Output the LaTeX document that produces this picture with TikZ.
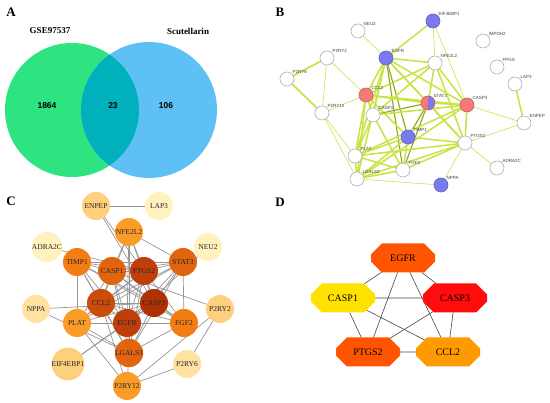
\documentclass[tikz,border=0pt]{standalone}
\usepackage{fontspec}
\setmainfont{Liberation Serif}
\setsansfont{Liberation Sans}
\usepackage{tkz-graph}
\usetikzlibrary{arrows}
\usetikzlibrary{shapes}
\pgfdeclarelayer{background}
\pgfsetlayers{background,main}

\definecolor{vennGreen}{RGB}{46,228,128}
\definecolor{vennBlue}{RGB}{95,192,246}
\definecolor{vennTeal}{RGB}{0,176,186}
\definecolor{protRim}{RGB}{175,175,175}
\definecolor{protBlue}{RGB}{122,122,238}
\definecolor{protRed}{RGB}{246,120,120}
\definecolor{linkYel}{RGB}{200,228,70}
\definecolor{linkGry}{RGB}{95,95,95}
\definecolor{linkPnk}{RGB}{232,90,222}
\definecolor{linkCyn}{RGB}{40,200,222}
\definecolor{linkBlu}{RGB}{120,120,235}
\definecolor{hotA}{RGB}{175,50,5}
\definecolor{hotB}{RGB}{192,62,10}
\definecolor{hotC}{RGB}{202,76,10}
\definecolor{hotD}{RGB}{225,100,15}
\definecolor{hotE}{RGB}{243,125,18}
\definecolor{hotF}{RGB}{251,155,40}
\definecolor{hotG}{RGB}{254,207,125}
\definecolor{hotH}{RGB}{255,226,160}
\definecolor{hotI}{RGB}{255,242,190}
\definecolor{hubLine}{RGB}{150,150,150}
\definecolor{rankA}{RGB}{255,12,12}
\definecolor{rankB}{RGB}{255,85,0}
\definecolor{rankC}{RGB}{255,155,0}
\definecolor{rankD}{RGB}{255,225,0}

\tikzset{splitProt/.style = {shape = circle, minimum size = 14pt, inner sep = 0pt, draw = protRed!80!black, fill = protRed, line width = 0.6pt,
	path picture = {\fill[protBlue] (path picture bounding box.north) rectangle (path picture bounding box.south east);}}}

\begin{document}
\begin{tikzpicture}[x = 1pt, y = -1pt]
	\useasboundingbox (0,0) rectangle (550,403);
	\tikzstyle{VertexStyle} = []
	\tikzstyle{EdgeStyle} = []
	\tikzstyle{panelStyle} = [font = \fontsize{13}{14}\selectfont\bfseries]
	\tikzstyle{setStyle} = [font = \fontsize{9}{10}\selectfont\bfseries]
	\tikzstyle{countStyle} = [font = \sffamily\fontsize{8.5}{9}\selectfont\bfseries]
	\tikzstyle{protLabel} = [font = \sffamily\fontsize{4.5}{5}\selectfont, text = darkgray, inner sep = 0.5pt]
	\tikzstyle{protStyle} = [shape = circle, minimum size = 14pt, inner sep = 0pt, draw = protRim, fill = white, line width = 0.6pt]
	\tikzstyle{blueProt} = [protStyle, draw = protBlue!80!black, fill = protBlue]
	\tikzstyle{redProt} = [protStyle, draw = protRed!80!black, fill = protRed]
	\tikzstyle{hubStyle} = [shape = circle, minimum size = 28pt, inner sep = 0pt, font = \fontsize{7.5}{8}\selectfont, text = black!85]
	\tikzstyle{rankStyle} = [shape = chamfered rectangle, chamfered rectangle xsep = 9pt, chamfered rectangle ysep = 7.5pt, minimum width = 64pt, minimum height = 29pt, inner sep = 0pt, font = \fontsize{10}{11}\selectfont]
	\tikzstyle{linkCore} = [draw = linkGry, double = linkYel, double distance = 0.35pt, line width = 0.4pt]
	\tikzstyle{linkCoreP} = [draw = linkPnk, double = linkYel, double distance = 0.35pt, line width = 0.4pt]
	\tikzstyle{linkCoreC} = [draw = linkCyn, double = linkGry, double distance = 0.35pt, line width = 0.4pt]
	\tikzstyle{linkPair} = [draw = linkBlu, double = linkYel, double distance = 0.6pt, line width = 0.6pt]

	% panel A
	\node[panelStyle] (pA) at (11,12) {A};
	\fill[vennGreen] (72,110) circle (67pt);
	\fill[vennBlue] (149,110) circle (68pt);
	\begin{scope}
		\clip (72,110) circle (67pt);
		\fill[vennTeal] (149,110) circle (68pt);
	\end{scope}
	\node[setStyle] (setGSE) at (50,31) {GSE97537};
	\node[setStyle] (setScu) at (188,31) {Scutellarin};
	\node[countStyle] (onlyGSE) at (47,106) {1864};
	\node[countStyle] (both) at (113,106) {23};
	\node[countStyle] (onlyScu) at (166,106) {106};

	% panel B
	\node[panelStyle] (pB) at (280,12) {B};
	\Vertex[style = {blueProt, label = {[protLabel]45:EIF4EBP1}}, x = 433, y = 21, NoLabel]{bEIF4EBP1}
	\Vertex[style = {protStyle, label = {[protLabel]45:NEU2}}, x = 358, y = 31, NoLabel]{bNEU2}
	\Vertex[style = {protStyle, label = {[protLabel]45:IMPDH2}}, x = 483, y = 41, NoLabel]{bIMPDH2}
	\Vertex[style = {protStyle, label = {[protLabel]45:P2RY2}}, x = 327, y = 58, NoLabel]{bP2RY2}
	\Vertex[style = {blueProt, label = {[protLabel]45:EGFR}}, x = 386, y = 58, NoLabel]{bEGFR}
	\Vertex[style = {protStyle, label = {[protLabel]45:NFE2L2}}, x = 435, y = 63, NoLabel]{bNFE2L2}
	\Vertex[style = {protStyle, label = {[protLabel]45:FPGS}}, x = 497, y = 67, NoLabel]{bFPGS}
	\Vertex[style = {protStyle, label = {[protLabel]45:LAP3}}, x = 515, y = 84, NoLabel]{bLAP3}
	\Vertex[style = {protStyle, label = {[protLabel]45:P2RY6}}, x = 287, y = 79, NoLabel]{bP2RY6}
	\Vertex[style = {redProt, label = {[protLabel]45:CCL2}}, x = 366, y = 95, NoLabel]{bCCL2}
	\Vertex[style = {splitProt, label = {[protLabel]45:STAT3}}, x = 428, y = 103, NoLabel]{bSTAT3}
	\Vertex[style = {redProt, label = {[protLabel]45:CASP3}}, x = 467, y = 105, NoLabel]{bCASP3}
	\Vertex[style = {protStyle, label = {[protLabel]45:P2RY12}}, x = 322, y = 113, NoLabel]{bP2RY12}
	\Vertex[style = {protStyle, label = {[protLabel]45:CASP1}}, x = 373, y = 115, NoLabel]{bCASP1}
	\Vertex[style = {protStyle, label = {[protLabel]45:ENPEP}}, x = 524, y = 123, NoLabel]{bENPEP}
	\Vertex[style = {blueProt, label = {[protLabel]45:TIMP1}}, x = 408, y = 137, NoLabel]{bTIMP1}
	\Vertex[style = {protStyle, label = {[protLabel]45:PTGS2}}, x = 465, y = 143, NoLabel]{bPTGS2}
	\Vertex[style = {protStyle, label = {[protLabel]45:PLAT}}, x = 355, y = 156, NoLabel]{bPLAT}
	\Vertex[style = {protStyle, label = {[protLabel]45:FGF2}}, x = 403, y = 170, NoLabel]{bFGF2}
	\Vertex[style = {protStyle, label = {[protLabel]45:ADRA2C}}, x = 497, y = 168, NoLabel]{bADRA2C}
	\Vertex[style = {protStyle, label = {[protLabel]45:LGALS3}}, x = 357, y = 179, NoLabel]{bLGALS3}
	\Vertex[style = {blueProt, label = {[protLabel]45:NPPA}}, x = 441, y = 185, NoLabel]{bNPPA}
	\begin{pgfonlayer}{background}
	\tikzstyle{EdgeStyle} = [draw = linkYel, line width = 0.6pt]
	\Edge[style = {linkCoreP}](bEIF4EBP1)(bEGFR)
	\Edge(bEIF4EBP1)(bNFE2L2)
	\Edge(bEIF4EBP1)(bCASP3)
	\Edge(bNEU2)(bEGFR)
	\Edge[style = {linkPair}](bP2RY2)(bP2RY6)
	\Edge[style = {draw = linkBlu!60}](bP2RY2)(bP2RY12)
	\Edge[style = {draw = linkGry}](bP2RY2)(bCCL2)
	\Edge[style = {linkPair}](bP2RY6)(bP2RY12)
	\Edge(bP2RY12)(bCCL2)
	\Edge[style = {draw = linkPnk}](bP2RY12)(bLGALS3)
	\Edge(bP2RY12)(bPLAT)
	\Edge[style = {linkCoreP}](bLAP3)(bENPEP)
	\Edge(bENPEP)(bCASP3)
	\Edge(bENPEP)(bPTGS2)
	\Edge(bPTGS2)(bADRA2C)
	\Edge(bNPPA)(bPTGS2)
	\Edge(bNPPA)(bLGALS3)
	\Edge[style = {linkCoreP}](bCCL2)(bNFE2L2)
	\Edge[style = {linkCoreP}](bEGFR)(bCCL2)
	\Edge[style = {linkCore}](bEGFR)(bSTAT3)
	\Edge[style = {linkCore}](bEGFR)(bCASP3)
	\Edge[style = {linkCoreP}](bEGFR)(bCASP1)
	\Edge[style = {linkCoreC}](bEGFR)(bTIMP1)
	\Edge[style = {linkCore}](bEGFR)(bPTGS2)
	\Edge[style = {linkCore}](bEGFR)(bPLAT)
	\Edge[style = {linkCoreC}](bEGFR)(bFGF2)
	\Edge[style = {linkCore}](bEGFR)(bLGALS3)
	\Edge[style = {linkCore}](bEGFR)(bNFE2L2)
	\Edge[style = {linkCore}](bCCL2)(bSTAT3)
	\Edge[style = {linkCore}](bCCL2)(bCASP3)
	\Edge[style = {linkCore}](bCCL2)(bCASP1)
	\Edge[style = {linkCore}](bCCL2)(bPLAT)
	\Edge[style = {linkCore}](bCCL2)(bLGALS3)
	\Edge[style = {linkCore}](bCCL2)(bTIMP1)
	\Edge[style = {linkCore}](bSTAT3)(bCASP3)
	\Edge[style = {linkCoreC}](bSTAT3)(bTIMP1)
	\Edge[style = {linkCore}](bSTAT3)(bPTGS2)
	\Edge[style = {linkCore}](bSTAT3)(bNFE2L2)
	\Edge[style = {linkCoreC}](bSTAT3)(bFGF2)
	\Edge[style = {linkCoreC}](bSTAT3)(bCASP1)
	\Edge[style = {linkCore}](bCASP3)(bPTGS2)
	\Edge[style = {linkCore}](bCASP3)(bCASP1)
	\Edge[style = {linkCore}](bCASP3)(bPLAT)
	\Edge[style = {linkCoreP}](bCASP3)(bLGALS3)
	\Edge[style = {linkCore}](bCASP3)(bNFE2L2)
	\Edge[style = {linkCore}](bCASP1)(bPLAT)
	\Edge[style = {linkCoreP}](bCASP1)(bNFE2L2)
	\Edge[style = {linkCore}](bCASP1)(bFGF2)
	\Edge[style = {linkCore}](bTIMP1)(bPLAT)
	\Edge[style = {linkCore}](bTIMP1)(bLGALS3)
	\Edge[style = {linkCore}](bTIMP1)(bFGF2)
	\Edge[style = {linkCore}](bTIMP1)(bPTGS2)
	\Edge[style = {linkCore}](bPTGS2)(bPLAT)
	\Edge[style = {linkCore}](bPTGS2)(bFGF2)
	\Edge[style = {linkCore}](bPTGS2)(bLGALS3)
	\Edge[style = {linkCore}](bPTGS2)(bNFE2L2)
	\Edge[style = {linkCore}](bPLAT)(bLGALS3)
	\Edge[style = {linkCore}](bPLAT)(bFGF2)
	\Edge[style = {linkCore}](bFGF2)(bLGALS3)
	\end{pgfonlayer}

	% panel C
	\node[panelStyle] (pC) at (11,201) {C};
	\Vertex[style = {hubStyle, fill = hotG}, x = 96, y = 206, L = {ENPEP}]{cENPEP}
	\Vertex[style = {hubStyle, fill = hotI}, x = 159, y = 206, L = {LAP3}]{cLAP3}
	\Vertex[style = {hubStyle, fill = hotF}, x = 129, y = 232, L = {NFE2L2}]{cNFE2L2}
	\Vertex[style = {hubStyle, fill = hotI}, x = 47, y = 247, L = {ADRA2C}]{cADRA2C}
	\Vertex[style = {hubStyle, fill = hotI}, x = 208, y = 247, L = {NEU2}]{cNEU2}
	\Vertex[style = {hubStyle, fill = hotE}, x = 77, y = 262, L = {TIMP1}]{cTIMP1}
	\Vertex[style = {hubStyle, fill = hotD}, x = 112, y = 271, L = {CASP1}]{cCASP1}
	\Vertex[style = {hubStyle, fill = hotB}, x = 144, y = 271, L = {PTGS2}]{cPTGS2}
	\Vertex[style = {hubStyle, fill = hotD}, x = 183, y = 262, L = {STAT3}]{cSTAT3}
	\Vertex[style = {hubStyle, fill = hotC}, x = 101, y = 303, L = {CCL2}]{cCCL2}
	\Vertex[style = {hubStyle, fill = hotA}, x = 154, y = 303, L = {CASP3}]{cCASP3}
	\Vertex[style = {hubStyle, fill = hotH}, x = 36, y = 309, L = {NPPA}]{cNPPA}
	\Vertex[style = {hubStyle, fill = hotG}, x = 220, y = 309, L = {P2RY2}]{cP2RY2}
	\Vertex[style = {hubStyle, fill = hotF}, x = 77, y = 323, L = {PLAT}]{cPLAT}
	\Vertex[style = {hubStyle, fill = hotB}, x = 127, y = 323, L = {EGFR}]{cEGFR}
	\Vertex[style = {hubStyle, fill = hotE}, x = 184, y = 323, L = {FGF2}]{cFGF2}
	\Vertex[style = {hubStyle, fill = hotD}, x = 129, y = 353, L = {LGALS3}]{cLGALS3}
	\Vertex[style = {hubStyle, fill = hotG}, x = 68, y = 364, L = {EIF4EBP1}]{cEIF4EBP1}
	\Vertex[style = {hubStyle, fill = hotH}, x = 187, y = 364, L = {P2RY6}]{cP2RY6}
	\Vertex[style = {hubStyle, fill = hotF}, x = 127, y = 386, L = {P2RY12}]{cP2RY12}
	\begin{pgfonlayer}{background}
	\tikzstyle{EdgeStyle} = [draw = hubLine, line width = 0.7pt]
	\Edge(cENPEP)(cLAP3)
	\Edge(cENPEP)(cCASP3)
	\Edge(cENPEP)(cPTGS2)
	\Edge(cNFE2L2)(cCASP1)
	\Edge(cNFE2L2)(cPTGS2)
	\Edge(cNFE2L2)(cCASP3)
	\Edge(cNFE2L2)(cEGFR)
	\Edge(cNFE2L2)(cSTAT3)
	\Edge(cNFE2L2)(cCCL2)
	\Edge(cNFE2L2)(cLGALS3)
	\Edge(cADRA2C)(cPTGS2)
	\Edge(cNEU2)(cEGFR)
	\Edge(cTIMP1)(cCASP1)
	\Edge(cTIMP1)(cPTGS2)
	\Edge(cTIMP1)(cSTAT3)
	\Edge(cTIMP1)(cCCL2)
	\Edge(cTIMP1)(cCASP3)
	\Edge(cTIMP1)(cPLAT)
	\Edge(cTIMP1)(cEGFR)
	\Edge(cTIMP1)(cFGF2)
	\Edge(cTIMP1)(cLGALS3)
	\Edge(cCASP1)(cPTGS2)
	\Edge(cCASP1)(cSTAT3)
	\Edge(cCASP1)(cCCL2)
	\Edge(cCASP1)(cCASP3)
	\Edge(cCASP1)(cPLAT)
	\Edge(cCASP1)(cEGFR)
	\Edge(cCASP1)(cLGALS3)
	\Edge(cCASP1)(cFGF2)
	\Edge(cPTGS2)(cSTAT3)
	\Edge(cPTGS2)(cCCL2)
	\Edge(cPTGS2)(cCASP3)
	\Edge(cPTGS2)(cPLAT)
	\Edge(cPTGS2)(cEGFR)
	\Edge(cPTGS2)(cFGF2)
	\Edge(cPTGS2)(cLGALS3)
	\Edge(cSTAT3)(cCCL2)
	\Edge(cSTAT3)(cCASP3)
	\Edge(cSTAT3)(cEGFR)
	\Edge(cSTAT3)(cFGF2)
	\Edge(cSTAT3)(cPLAT)
	\Edge(cSTAT3)(cLGALS3)
	\Edge(cCCL2)(cCASP3)
	\Edge(cCCL2)(cPLAT)
	\Edge(cCCL2)(cEGFR)
	\Edge(cCCL2)(cFGF2)
	\Edge(cCCL2)(cLGALS3)
	\Edge(cCCL2)(cP2RY12)
	\Edge(cCASP3)(cPLAT)
	\Edge(cCASP3)(cEGFR)
	\Edge(cCASP3)(cFGF2)
	\Edge(cCASP3)(cLGALS3)
	\Edge(cCASP3)(cNPPA)
	\Edge(cCASP3)(cEIF4EBP1)
	\Edge(cPLAT)(cEGFR)
	\Edge(cPLAT)(cFGF2)
	\Edge(cPLAT)(cLGALS3)
	\Edge(cPLAT)(cP2RY12)
	\Edge(cEGFR)(cFGF2)
	\Edge(cEGFR)(cLGALS3)
	\Edge(cEGFR)(cEIF4EBP1)
	\Edge(cFGF2)(cLGALS3)
	\Edge(cLGALS3)(cP2RY12)
	\Edge(cLGALS3)(cNPPA)
	\Edge(cP2RY2)(cP2RY6)
	\Edge(cP2RY2)(cP2RY12)
	\Edge(cP2RY2)(cCASP1)
	\Edge(cP2RY6)(cP2RY12)
	\end{pgfonlayer}

	% panel D
	\node[panelStyle] (pD) at (280,202) {D};
	\Vertex[style = {rankStyle, fill = rankB}, x = 403, y = 258, L = {EGFR}]{dEGFR}
	\Vertex[style = {rankStyle, fill = rankD}, x = 343, y = 298, L = {CASP1}]{dCASP1}
	\Vertex[style = {rankStyle, fill = rankA}, x = 455, y = 298, L = {CASP3}]{dCASP3}
	\Vertex[style = {rankStyle, fill = rankB}, x = 368, y = 352, L = {PTGS2}]{dPTGS2}
	\Vertex[style = {rankStyle, fill = rankC}, x = 448, y = 352, L = {CCL2}]{dCCL2}
	\begin{pgfonlayer}{background}
	\tikzstyle{EdgeStyle} = [draw = black!72, line width = 0.6pt]
	\Edge(dEGFR)(dCASP1)
	\Edge(dEGFR)(dCASP3)
	\Edge(dEGFR)(dPTGS2)
	\Edge(dEGFR)(dCCL2)
	\Edge(dCASP1)(dCASP3)
	\Edge(dCASP1)(dPTGS2)
	\Edge(dCASP1)(dCCL2)
	\Edge(dCASP3)(dPTGS2)
	\Edge(dCASP3)(dCCL2)
	\Edge(dPTGS2)(dCCL2)
	\end{pgfonlayer}
\end{tikzpicture}
\end{document}
